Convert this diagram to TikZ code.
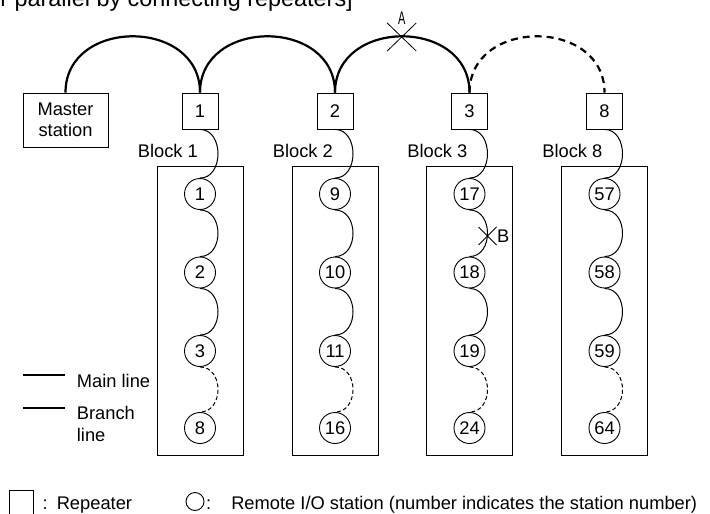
\documentclass[tikz,border=0pt]{standalone}
\usepackage{fontspec}
\setmainfont{Liberation Sans}
\usetikzlibrary{positioning}

\begin{document}
\begin{tikzpicture}[
    x=1pt, y=1pt,
    every node/.style={font=\fontsize{18.3}{21.5}\selectfont},
    rep/.style={draw, line width=0.9pt, minimum size=36pt, inner sep=0pt},
    mst/.style={draw, line width=0.9pt, minimum width=85pt, minimum height=54pt, inner sep=0pt, align=center},
    blk/.style={draw, line width=0.9pt, minimum width=86pt, minimum height=288.5pt, inner sep=0pt},
    stn/.style={draw, circle, line width=0.9pt, minimum size=31pt, inner sep=0pt},
    mainln/.style={line width=2.2pt},
    brln/.style={line width=1pt},
    xmark/.style={line width=0.8pt},
    lbl/.style={inner sep=0pt, anchor=base west}
]
\useasboundingbox (0,0) rectangle (710,-514);

% --- Title (cut at the top edge) ---
\node[anchor=base east, inner sep=0pt, font=\fontsize{23.4}{26}\selectfont] (ttl) at (353,-6.5) {r parallel by connecting repeaters]};

% --- Master station ---
\node[mst] (ms) at (65.5,-120) {Master\\station};

% --- Repeaters, blocks and remote I/O stations ---
\foreach \k/\x/\sa/\sb/\sc/\sd in {1/200/1/2/3/8, 2/335/9/10/11/16, 3/469.5/17/18/19/24, 8/604.5/57/58/59/64} {
  \node[rep] (r\k) at (\x,-111) {\k};
  \node[blk] (b\k) at (\x,-310.75) {};
  \node[lbl] (bl\k) at (\x-62.3,-157.7) {Block \k};
  \node[stn] (st\k-1) at (\x,-194) {\sa};
  \node[stn] (st\k-2) at (\x,-272.5) {\sb};
  \node[stn] (st\k-3) at (\x,-351) {\sc};
  \node[stn] (st\k-4) at (\x,-428) {\sd};
  % branch line
  \draw[brln] (r\k.south) .. controls +(24,0) and +(24,0) .. (st\k-1.north);
  \draw[brln] (st\k-1.south) .. controls +(24,0) and +(24,0) .. (st\k-2.north);
  \draw[brln] (st\k-2.south) .. controls +(24,0) and +(24,0) .. (st\k-3.north);
  \draw[brln, dash pattern=on 4pt off 2.5pt] (st\k-3.south) .. controls +(24,0) and +(24,0) .. (st\k-4.north);
}

% --- Main line ---
\draw[mainln] (ms.north) .. controls +(0,75) and +(0,75) .. (r1.north);
\draw[mainln] (r1.north) .. controls +(0,75) and +(0,75) .. (r2.north);
\draw[mainln] (r2.north) .. controls +(0,75) and +(0,75) .. (r3.north);
\draw[mainln, dash pattern=on 7pt off 5pt] (r3.north) .. controls +(0,75) and +(0,75) .. (r8.north);

% --- Break points A and B ---
\coordinate (xa) at (401.7,-37);
\draw[xmark] ([shift={(-14.5,14)}]xa) -- ([shift={(14.5,-14)}]xa);
\draw[xmark] ([shift={(-14.5,-14)}]xa) -- ([shift={(14.5,14)}]xa);
\node[inner sep=0pt, xscale=0.6, above=12pt of xa] (la) {A};

\coordinate (xb) at (487.5,-236);
\draw[xmark] ([shift={(-9,9)}]xb) -- ([shift={(9,-9)}]xb);
\draw[xmark] ([shift={(-9,-9)}]xb) -- ([shift={(9,9)}]xb);
\node[inner sep=0pt, right=9.5pt of xb] (lb) {B};

% --- Line legend ---
\coordinate (km1) at (23,-375);
\coordinate (km2) at (65,-375);
\draw[mainln] (km1) -- (km2);
\node[lbl] (kml) at (76.7,-387) {Main line};
\coordinate (kb1) at (23,-408);
\coordinate (kb2) at (65,-408);
\draw[brln, line width=1.3pt] (kb1) -- (kb2);
\node[lbl] (kbl) at (76.7,-419.5) {Branch};
\node[lbl] (kbl2) at (76.7,-441.5) {line};

% --- Symbol legend ---
\node[draw, line width=0.9pt, minimum width=24pt, minimum height=36pt, inner sep=0pt] (krep) at (21,-508.7) {};
\node[lbl] (krepl) at (42.5,-509.5) {:\hspace{9pt}Repeater};
\node[draw, circle, line width=0.9pt, minimum size=18pt, inner sep=0pt] (kstn) at (195,-501.5) {};
\node[lbl] (kstnl) at (206,-509.5) {:\hspace{20pt}Remote I/O station (number indicates the station number)};
\end{tikzpicture}
\end{document}
